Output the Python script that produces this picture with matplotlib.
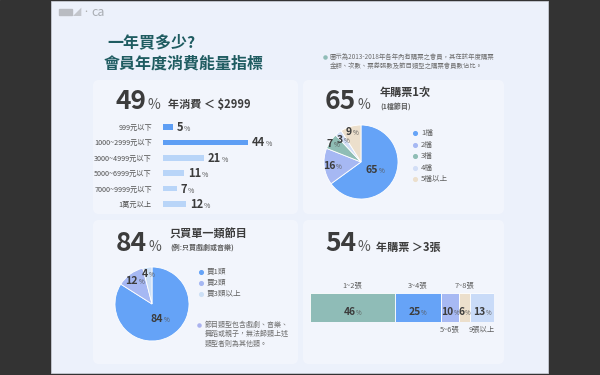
import numpy as np
import matplotlib
matplotlib.use('Agg')
import matplotlib.pyplot as plt
from matplotlib.patches import FancyBboxPatch, Rectangle

plt.rcParams['font.family'] = ['Noto Sans CJK TC', 'DejaVu Sans']

# data
spend_labels = ['999元以下', '1000~2999元以下', '3000~4999元以下', '5000~6999元以下', '7000~9999元以下', '1萬元以上']
spend_values = [5, 44, 21, 11, 7, 12]

times_labels = ['1檔', '2檔', '3檔', '4檔', '5檔以上']
times_values = [65, 16, 7, 3, 9]

genre_labels = ['買1類', '買2類', '買3類以上']
genre_values = [84, 12, 4]

ticket_labels = ['1~2張', '3~4張', '5~6張', '7~8張', '9張以上']
ticket_values = [46, 25, 10, 6, 13]

W, H = 600, 375
fig = plt.figure(figsize=(6, 3.75), dpi=100)
bg = fig.add_axes([0, 0, 1, 1])
bg.set_xlim(0, W)
bg.set_ylim(H, 0)
bg.axis('off')
bg.set_zorder(0)
# text layer on top of every chart axes
fg = fig.add_axes([0, 0, 1, 1])
fg.set_xlim(0, W)
fg.set_ylim(H, 0)
fg.axis('off')
fg.set_zorder(10)

bg.add_patch(Rectangle((0, 0), W, H, color='#333333', zorder=0))
bg.add_patch(Rectangle((51, 1), 497, 372, facecolor='#ecf1fb', edgecolor='#c8ccd4', lw=0.6, zorder=0))

# panels
for (x0, y0, x1, y1) in [(93, 80, 298, 214), (303, 80, 504, 214), (93, 220, 298, 364), (303, 220, 504, 364)]:
    bg.add_patch(FancyBboxPatch((x0, y0), x1 - x0, y1 - y0, boxstyle='round,pad=0,rounding_size=6',
                                facecolor='#f4f7fd', edgecolor='none', alpha=0.8, zorder=1))

DARK = '#3c3c3c'
GREY = '#5f5f5f'
rend = fig.canvas.get_renderer()


def px(box):
    # pixel box (left, top, width, height) -> figure fraction
    l, t, w, h = box
    return [l / W, (H - t - h) / H, w / W, h / H]


def num_pct(x, y, num, size, psize, ha='left', gap=1.0):
    t1 = fg.text(x, y, num, fontsize=size, fontweight='bold', color=DARK, va='baseline')
    t2 = fg.text(x, y, '%', fontsize=psize, color='#555555', va='baseline')
    w1 = t1.get_window_extent(rend).width
    w2 = t2.get_window_extent(rend).width
    start = x if ha == 'left' else x - (w1 + gap + w2) / 2
    t1.set_x(start)
    t2.set_x(start + w1 + gap)


def label_at(cx, cy, num, size=7.6, psize=4.6, ha='center', gap=0.5):
    base = cy + 0.36 * size * 100 / 72
    num_pct(cx, base, str(num), size, psize, ha=ha, gap=gap)


def to_fg(ax, x, y):
    return fg.transData.inverted().transform(ax.transData.transform((x, y)))


# logos
bg.add_patch(Rectangle((59, 9), 13, 6, color='#b9bcc2', zorder=2))
fg.text(73, 12.5, '◢', fontsize=6, color='#c3c6cc', va='center')
fg.text(86, 12.5, '·', fontsize=5, color='#aaaaaa', va='center', ha='center')
fg.text(91, 12, 'ca', fontsize=9, color='#a9adb3', va='center')

# title
TEAL = '#1f5c61'
fg.text(107, 42, '一年買多少?', fontsize=11.5, fontweight='heavy', color=TEAL, va='center')
fg.text(104, 64, '會員年度消費能量指標', fontsize=11.5, fontweight='heavy', color=TEAL, va='center')

# top-right note
fg.scatter([325], [57], s=5, color='#8fbcb7')
fg.text(330, 57, '圖示為2013-2018年各年內有購票之會員，其在該年度購票', fontsize=4.6, color='#6d6d6d', va='center')
fg.text(330, 66, '金額、次數、票券張數及節目類型之購票會員數佔比。', fontsize=4.6, color='#6d6d6d', va='center')

# ---- top-left: spending bars
num_pct(116, 109, '49', 19, 10)
fg.text(168, 105, '年消費 ＜ $2999', fontsize=8, fontweight='bold', color=DARK, va='center')

ax1 = fig.add_axes(px((163, 119.3, 96.6, 92.4)))
ypos = np.arange(len(spend_values))
colors1 = ['#5e9ef4' if i < 2 else '#b9d5f8' for i in ypos]
ax1.barh(ypos, spend_values, height=0.36, color=colors1)
ax1.set_xlim(0, 50)
ax1.set_ylim(len(spend_values) - 0.5, -0.5)
ax1.set_yticks(ypos)
ax1.set_yticklabels(spend_labels, fontsize=5.2, color='#505050')
ax1.set_xticks([])
ax1.tick_params(axis='y', length=0, pad=8)
for s in ax1.spines.values():
    s.set_visible(False)
ax1.patch.set_alpha(0)
for i, v in enumerate(spend_values):
    x, y = to_fg(ax1, v, i)
    label_at(x + 4, y, v, size=8, psize=5, ha='left')

# ---- top-right: times pie
num_pct(325, 109, '65', 19, 10)
fg.text(380, 92, '年購票1次', fontsize=8, fontweight='bold', color=DARK, va='center')
fg.text(380, 106, '(1檔節目)', fontsize=5, fontweight='bold', color=GREY, va='center')

colors_t = ['#65a3f7', '#a6b8f3', '#8fbdb5', '#d2def6', '#ecdfcc']


def pie_at(cx, cy, r, values, colors, radii):
    ax = fig.add_axes(px((cx - r * 1.1, cy - r * 1.1, r * 2.2, r * 2.2)))
    wedges, _ = ax.pie(values, colors=colors, startangle=90, counterclock=False, radius=1,
                       wedgeprops=dict(edgecolor='white', linewidth=0.6))
    ax.set_xlim(-1.1, 1.1)
    ax.set_ylim(-1.1, 1.1)
    ax.set_aspect('equal')
    for w, v, rr in zip(wedges, values, radii):
        mid = np.deg2rad((w.theta1 + w.theta2) / 2)
        x, y = to_fg(ax, rr * np.cos(mid), rr * np.sin(mid))
        label_at(x, y, v)
    return ax


pie_at(361, 162, 37, times_values, colors_t, [0.42, 0.78, 0.92, 0.78, 0.86])
for i, lab in enumerate(times_labels):
    yy = 133 + i * 11.6
    fg.scatter([415], [yy], s=7, color=colors_t[i])
    fg.text(421, yy, lab, fontsize=5.5, color=GREY, va='center')

# ---- bottom-left: genre pie
num_pct(116, 251, '84', 19, 10)
fg.text(170, 234, '只買單一類節目', fontsize=8, fontweight='bold', color=DARK, va='center')
fg.text(170, 247, '(例:只買戲劇或音樂)', fontsize=5, fontweight='bold', color=GREY, va='center')

colors_g = ['#65a3f7', '#a6b8f3', '#cde0f6']
pie_at(152, 304, 37, genre_values, colors_g, [0.45, 0.78, 0.84])
for i, lab in enumerate(genre_labels):
    yy = 272 + i * 11
    fg.scatter([201], [yy], s=7, color=colors_g[i])
    fg.text(207, yy, lab, fontsize=5.5, color=GREY, va='center')

fg.scatter([199], [325], s=5, color='#aab2ee')
for i, line in enumerate(['節目類型包含戲劇、音樂、', '舞蹈或親子，無法歸類上述', '類型者則為其他類。']):
    fg.text(205, 325 + i * 9.3, line, fontsize=5, color='#6d6d6d', va='center')

# ---- bottom-right: tickets stacked bar
num_pct(325, 251, '54', 19, 10)
fg.text(376, 247, '年購票 ＞3張', fontsize=8, fontweight='bold', color=DARK, va='center')

colors_k = ['#8fbcb7', '#66a3f7', '#a7b9f3', '#ecdfcc', '#c9dbf8']
ax4 = fig.add_axes(px((310, 293, 184, 29)))
left = np.concatenate([[0], np.cumsum(ticket_values)[:-1]])
ax4.barh([0], ticket_values, left=left, height=1.0, color=colors_k, edgecolor='white', linewidth=0.6)
ax4.set_xlim(0, 100)
ax4.set_ylim(-0.5, 0.5)
ax4.axis('off')
place = ['above', 'above', 'below', 'above', 'below']
for i, (lab, v) in enumerate(zip(ticket_labels, ticket_values)):
    x, y = to_fg(ax4, left[i] + v / 2, 0)
    label_at(x, y + 4, v, size=7.4, psize=4.4)
    ly = 286 if place[i] == 'above' else 330
    fg.text(x, ly, lab, fontsize=5.3, color=GREY, ha='center', va='center')

fig.savefig('out.png', dpi=100)
